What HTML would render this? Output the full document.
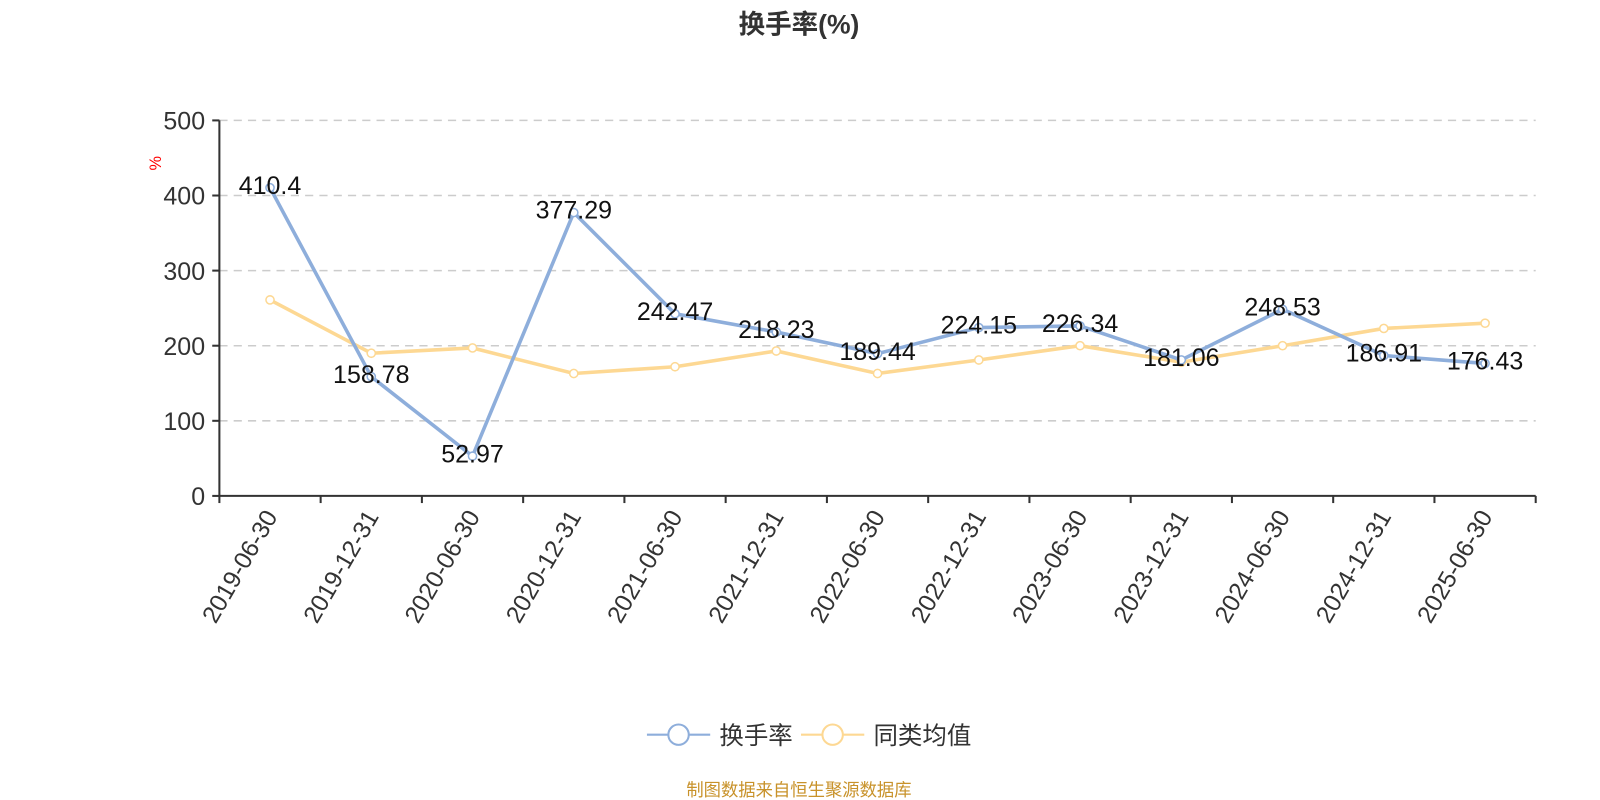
<!DOCTYPE html>
<html><head><meta charset="utf-8"><style>
body{margin:0;background:#fff;}
svg{display:block;font-family:"Liberation Sans","Noto Sans CJK SC",sans-serif;}
</style></head><body>
<svg width="1600" height="800">
<g id="c" transform="scale(1.0204)">
<text x="783" y="33" text-anchor="middle" font-size="26" font-weight="bold" fill="#333">换手率(%)</text>
<text transform="translate(158,160) rotate(-90)" text-anchor="middle" font-size="16" fill="#f00">%</text>
<g>
<g><line x1="634" y1="720" x2="696" y2="720" stroke="#8eaedb" stroke-width="2"/><circle cx="665" cy="720" r="10" fill="#fff" stroke="#8eaedb" stroke-width="2"/><text x="705" y="729" font-size="24" fill="#333">换手率</text></g>
<g><line x1="785" y1="720" x2="847" y2="720" stroke="#fdd893" stroke-width="2"/><circle cx="816" cy="720" r="10" fill="#fff" stroke="#fdd893" stroke-width="2"/><text x="856" y="729" font-size="24" fill="#333">同类均值</text></g>
</g>
<text x="783" y="780" text-anchor="middle" font-size="17" fill="#c8922a">制图数据来自恒生聚源数据库</text>
</g>
</svg>
<script>
const categories=["2019-06-30","2019-12-31","2020-06-30","2020-12-31","2021-06-30","2021-12-31","2022-06-30","2022-12-31","2023-06-30","2023-12-31","2024-06-30","2024-12-31","2025-06-30"];
const turnover=[410.4,158.78,52.97,377.29,242.47,218.23,189.44,224.15,226.34,181.06,248.53,186.91,176.43];
const peerAvg=[261,190,197,163,172,193,163,181,200,178,200,223,230];
const yTicks=[0,100,200,300,400,500];
const svg=document.getElementById('c');const NS='http://www.w3.org/2000/svg';
const L=215,R=1505,T=118,B=486,yMax=500;
const bw=(R-L)/categories.length;
const xs=i=>L+bw*(i+0.5);
const ys=v=>B-(v/yMax)*(B-T);
function mk(t,a,p){const e=document.createElementNS(NS,t);for(const k in a)e.setAttribute(k,a[k]);(p||svg).appendChild(e);return e;}
const g=mk('g',{});


yTicks.forEach(v=>{
 const y=ys(v);
 if(v>0){const gl=mk('line',{x1:L,x2:R,y1:y,y2:y,stroke:'#ccc','stroke-dasharray':'8,6','stroke-width':1.5},g);
 
 }
 mk('line',{x1:L-7,x2:L,y1:y,y2:y,stroke:'#333','stroke-width':2},g);
 const t=mk('text',{x:L-14,y:y+9,'text-anchor':'end','font-size':24.5,fill:'#333'},g);t.textContent=v;
 
 
});
const ya=mk('line',{x1:L,x2:L,y1:T,y2:B,stroke:'#333','stroke-width':2},g);


const xa=mk('line',{x1:L,x2:R,y1:B,y2:B,stroke:'#333','stroke-width':2},g);


for(let i=0;i<=categories.length;i++){const x=L+bw*i;mk('line',{x1:x,x2:x,y1:B,y2:B+7,stroke:'#333','stroke-width':2},g);}
categories.forEach((c,i)=>{
 const x=xs(i);
 const t=mk('text',{transform:`translate(${x+8},${B+20}) rotate(-60)`,'text-anchor':'end','font-size':24,fill:'#333'},g);t.textContent=c;
 
 
});
function series(vals,color,name,labels){
 const pl=mk('polyline',{points:vals.map((v,i)=>xs(i)+','+ys(v)).join(' '),fill:'none',stroke:color,'stroke-width':3.5},g);
 
 
 vals.forEach((v,i)=>{
  const c=mk('circle',{cx:xs(i),cy:ys(v),r:4,fill:'#fff',stroke:color,'stroke-width':1.5},g);
  
  
 });
 if(labels)vals.forEach((v,i)=>{
  const t=mk('text',{x:xs(i),y:ys(v)+6,'text-anchor':'middle','font-size':24.5,fill:'#111'},g);t.textContent=v;
  
  
 });
}
series(peerAvg,'#fdd893','peer-average',false);
series(turnover,'#8eaedb','turnover',true);
</script>
</body></html>
